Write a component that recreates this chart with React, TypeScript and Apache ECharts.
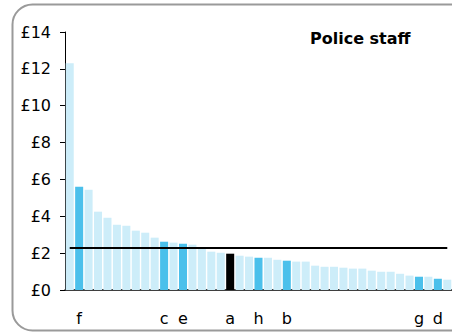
import React, { useEffect, useRef } from "react";
import * as echarts from "echarts";

const values = [
  12.3, 5.6, 5.44, 4.25, 3.92, 3.54, 3.49, 3.22, 3.11, 2.84, 2.62, 2.57, 2.51, 2.46,
  2.27, 2.08, 2.02, 1.97, 1.86, 1.81, 1.75, 1.75, 1.64, 1.59, 1.54, 1.54, 1.32, 1.26,
  1.26, 1.21, 1.16, 1.16, 1.05, 0.99, 0.99, 0.88, 0.78, 0.72, 0.72, 0.61, 0.56,
];
// label under each bar ("" = none)
const barLabels = [
  "", "f", "", "", "", "", "", "", "", "", "c", "", "e", "", "", "", "", "a", "", "",
  "h", "", "", "b", "", "", "", "", "", "", "", "", "", "", "", "", "", "g", "", "d", "",
];
// 0 = other, 1 = highlighted, 2 = selected
const kinds = [
  0, 1, 0, 0, 0, 0, 0, 0, 0, 0, 1, 0, 1, 0, 0, 0, 0, 2, 0, 0,
  1, 0, 0, 1, 0, 0, 0, 0, 0, 0, 0, 0, 0, 0, 0, 0, 0, 1, 0, 1, 0,
];
const averageValue = 2.28;
const yTicks = { min: 0, max: 14, interval: 2 };
const title = "Police staff";

const categories = values.map((_, i) => String(i + 1));
const kindColors = ["#CDEDF9", "#4BC0EB", "#000000"];
const FONT = "DejaVu Sans";

export default function App() {
  const ref = useRef<HTMLDivElement>(null);
  useEffect(() => {
    if (!ref.current) return;
    const chart = echarts.init(ref.current, null, { renderer: "svg" });
    chart.setOption({
      animation: false,
      backgroundColor: "#ffffff",
      title: {
        text: title,
        left: 310,
        top: 30,
        padding: 0,
        textStyle: { fontFamily: FONT, fontSize: 16, fontWeight: "bold", color: "#000" },
      },
      graphic: [
        {
          type: "rect",
          shape: { x: 12.5, y: 4.5, width: 470, height: 326, r: 20 },
          style: { fill: "none", stroke: "#9a9a9a", lineWidth: 2 },
          silent: true,
          z: 100,
        },
      ],
      grid: { left: 65, top: 32, width: 388, bottom: 42, containLabel: false },
      xAxis: {
        type: "category",
        data: categories,
        axisLine: { show: true, lineStyle: { color: "#000", width: 1.5 } },
        axisTick: { show: false },
        axisLabel: {
          interval: 0,
          margin: 20,
          fontFamily: FONT,
          fontSize: 16,
          color: "#000",
          formatter: (_v: string, i: number) => barLabels[i],
        },
      },
      yAxis: {
        type: "value",
        min: yTicks.min,
        max: yTicks.max,
        interval: yTicks.interval,
        splitLine: { show: false },
        axisLine: { show: true, lineStyle: { color: "#000", width: 1 } },
        axisTick: { show: true, length: 5, lineStyle: { color: "#000" } },
        axisLabel: {
          margin: 14,
          fontFamily: FONT,
          fontSize: 16,
          color: "#000",
          formatter: "£{value}",
        },
      },
      series: [
        {
          type: "bar",
          data: values.map((v, i) => ({ value: v, itemStyle: { color: kindColors[kinds[i]] } })),
          barCategoryGap: "15%",
          z: 2,
        },
        {
          type: "line",
          data: values.map(() => averageValue),
          symbol: "none",
          lineStyle: { color: "#000", width: 2 },
          z: 3,
        },
      ],
    });
    return () => chart.dispose();
  }, []);
  return (
    <div
      ref={ref}
      style={{ position: "absolute", left: 0, top: 0, width: 452, height: 332 }}
    />
  );
}
